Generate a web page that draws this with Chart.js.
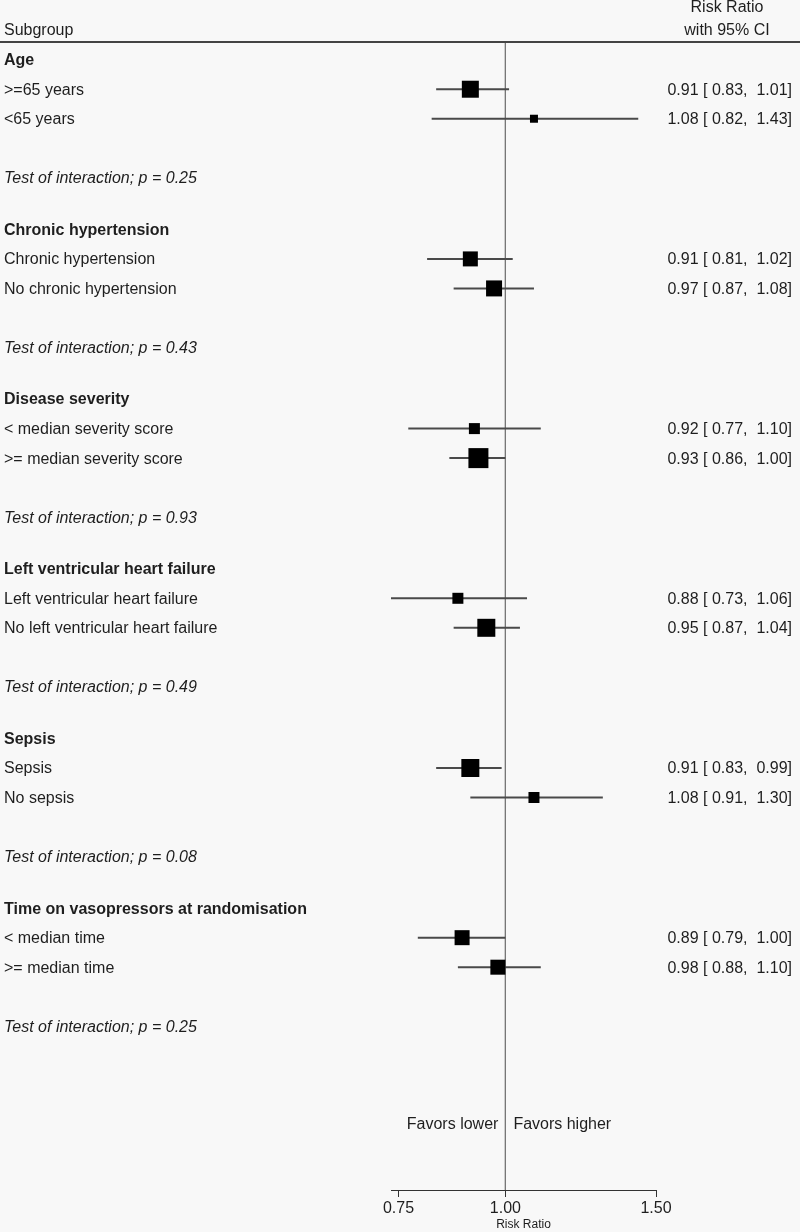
<!DOCTYPE html>
<html>
<head>
<meta charset="utf-8">
<script src="https://cdn.jsdelivr.net/npm/chart.js@4"></script>
<style>
  body { margin: 0; background: #f8f8f8; }
  canvas { display: block; }
</style>
</head>
<body>
<canvas id="forest" width="800" height="1232"></canvas>
<script>
// subgroup data
const groups = ['Age', 'Chronic hypertension', 'Disease severity',
  'Left ventricular heart failure', 'Sepsis', 'Time on vasopressors at randomisation'];
const subgroups = [
  ['>=65 years', '<65 years'],
  ['Chronic hypertension', 'No chronic hypertension'],
  ['< median severity score', '>= median severity score'],
  ['Left ventricular heart failure', 'No left ventricular heart failure'],
  ['Sepsis', 'No sepsis'],
  ['< median time', '>= median time']
];
const riskRatio = [0.91, 1.08, 0.91, 0.97, 0.92, 0.93, 0.88, 0.95, 0.91, 1.08, 0.89, 0.98];
const ciLow     = [0.83, 0.82, 0.81, 0.87, 0.77, 0.86, 0.73, 0.87, 0.83, 0.91, 0.79, 0.88];
const ciHigh    = [1.01, 1.43, 1.02, 1.08, 1.10, 1.00, 1.06, 1.04, 0.99, 1.30, 1.00, 1.10];
const weights   = [17, 8, 15, 16, 11, 20, 11, 18, 18, 11, 15, 15];
const pInteraction = [0.25, 0.43, 0.93, 0.49, 0.08, 0.25];
const xTicks = [0.75, 1.00, 1.50];

// row layout (in row units)
const firstRow = 0.6, groupStep = 5.75, yMax = 38.9, favorsRow = 36.64;
const headerRow = g => firstRow + g * groupStep;
const rowPos = [];
groups.forEach((g, gi) => { rowPos.push(headerRow(gi) + 1, headerRow(gi) + 2); });

const FONT = '"Liberation Sans", Arial, sans-serif';
const TEXT = '#1e1e1e';
const dy = 1; // text sits a touch lower than the marks

const ciSets = riskRatio.map((r, i) => ({
  type: 'line',
  data: [{ x: ciLow[i], y: rowPos[i] }, { x: ciHigh[i], y: rowPos[i] }],
  borderColor: '#4a4a4a',
  borderWidth: 2,
  pointRadius: 0,
  showLine: true
}));

const textPlugin = {
  id: 'forestText',
  beforeDraw(chart) {
    const ctx = chart.ctx;
    ctx.save();
    ctx.fillStyle = '#f8f8f8';
    ctx.fillRect(0, 0, chart.width, chart.height);
    ctx.restore();
  },
  afterDraw(chart) {
    const ctx = chart.ctx;
    const y = chart.scales.y;
    const x = chart.scales.x;
    ctx.save();
    ctx.fillStyle = TEXT;
    ctx.textBaseline = 'middle';

    // column headers
    ctx.font = '16px ' + FONT;
    ctx.textAlign = 'left';
    ctx.fillText('Subgroup', 4, 31);
    ctx.textAlign = 'center';
    ctx.fillText('Risk Ratio', 727, 8);
    ctx.fillText('with 95% CI', 727, 31);
    ctx.strokeStyle = '#444';
    ctx.lineWidth = 2;
    ctx.beginPath();
    ctx.moveTo(0, 42);
    ctx.lineTo(chart.width, 42);
    ctx.stroke();

    groups.forEach((g, gi) => {
      ctx.textAlign = 'left';
      ctx.font = 'bold 16px ' + FONT;
      ctx.fillText(g, 4, y.getPixelForValue(headerRow(gi)) + dy);
      ctx.font = '16px ' + FONT;
      subgroups[gi].forEach((s, si) => {
        const i = gi * 2 + si;
        const py = y.getPixelForValue(rowPos[i]) + dy;
        ctx.textAlign = 'left';
        ctx.fillText(s, 4, py);
        ctx.textAlign = 'right';
        ctx.fillText(riskRatio[i].toFixed(2) + ' [ ' + ciLow[i].toFixed(2) + ',  ' +
          ciHigh[i].toFixed(2) + ']', 792, py);
      });
      ctx.textAlign = 'left';
      ctx.font = 'italic 16px ' + FONT;
      ctx.fillText('Test of interaction; p = ' + pInteraction[gi].toFixed(2), 4,
        y.getPixelForValue(headerRow(gi) + 4) + dy);
    });

    ctx.font = '16px ' + FONT;
    const fy = y.getPixelForValue(favorsRow) + dy;
    const x1 = x.getPixelForValue(1);
    ctx.textAlign = 'right';
    ctx.fillText('Favors lower', x1 - 7, fy);
    ctx.textAlign = 'left';
    ctx.fillText('Favors higher', x1 + 8, fy);
    ctx.restore();
  }
};

new Chart(document.getElementById('forest'), {
  type: 'scatter',
  data: {
    datasets: [
      {
        data: riskRatio.map((r, i) => ({ x: r, y: rowPos[i] })),
        pointStyle: 'rect',
        pointRadius: weights.map(w => w / Math.SQRT2),
        backgroundColor: '#000',
        borderWidth: 0
      },
      ...ciSets,
      {
        type: 'line',
        data: [{ x: 1, y: 0 }, { x: 1, y: yMax }],
        borderColor: '#777',
        borderWidth: 1,
        pointRadius: 0,
        showLine: true
      }
    ]
  },
  options: {
    responsive: false,
    animation: false,
    layout: { padding: { left: 391, right: 144, top: 42, bottom: 0 } },
    plugins: { legend: { display: false }, tooltip: { enabled: false } },
    scales: {
      x: {
        type: 'logarithmic',
        min: 0.735,
        max: 1.5,
        afterBuildTicks(scale) { scale.ticks = xTicks.map(v => ({ value: v })); },
        afterFit(scale) { scale.height = 42; },
        grid: { drawOnChartArea: false, drawTicks: true, tickLength: 7, color: '#333' },
        border: { display: true, color: '#333', width: 1 },
        ticks: {
          color: TEXT,
          font: { family: FONT, size: 16 },
          padding: 2,
          maxRotation: 0,
          autoSkip: false,
          callback: v => Number(v).toFixed(2)
        },
        title: {
          display: true,
          text: 'Risk Ratio',
          color: TEXT,
          font: { family: FONT, size: 12 },
          padding: 0
        }
      },
      y: {
        type: 'linear',
        display: false,
        reverse: true,
        min: 0,
        max: yMax
      }
    }
  },
  plugins: [textPlugin]
});
</script>
</body>
</html>
